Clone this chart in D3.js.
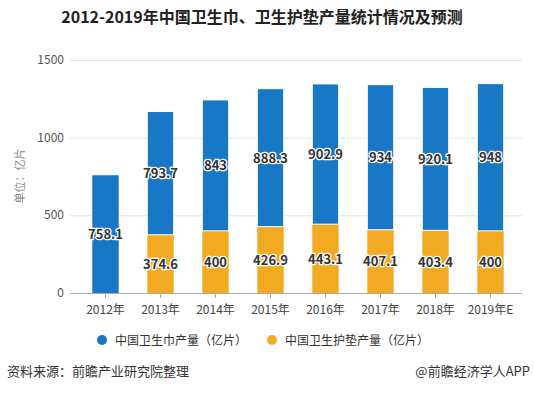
<!DOCTYPE html>
<html>
<head>
<meta charset="utf-8">
<script src="https://cdn.jsdelivr.net/npm/d3@7"></script>
<style>
  body { margin: 0; background: #fff; }
  svg { font-family: "Microsoft YaHei", "Noto Sans CJK SC", sans-serif; }
</style>
</head>
<body>
<div id="chart"></div>
<script>
var years = ['2012年', '2013年', '2014年', '2015年', '2016年', '2017年', '2018年', '2019年E'],
    padValues = [0, 374.6, 400, 426.9, 443.1, 407.1, 403.4, 400],
    napkinValues = [758.1, 793.7, 843, 888.3, 902.9, 934, 920.1, 948],
    yTicks = [0, 500, 1000, 1500];

var BLUE = '#1878c6', ORANGE = '#f1aa22';

var width = 534, height = 394,
    x = d3.scaleBand().domain(years).range([78, 518]).paddingInner(0.52).paddingOuter(0.26),
    y = d3.scaleLinear().domain([0, 1500]).range([293, 60]);

var svg = d3.select('#chart').append('svg')
  .attr('width', width)
  .attr('height', height);

// Title
svg.append('text')
  .attr('x', 262).attr('y', 23)
  .attr('text-anchor', 'middle')
  .attr('font-size', 16).attr('font-weight', 'bold')
  .attr('fill', '#222')
  .text('2012-2019年中国卫生巾、卫生护垫产量统计情况及预测');

// Grid lines
svg.append('g').selectAll('line')
  .data(yTicks)
  .enter().append('line')
  .attr('x1', 70).attr('x2', 522)
  .attr('y1', function(d) { return y(d) + 0.5; })
  .attr('y2', function(d) { return y(d) + 0.5; })
  .attr('stroke', function(d) { return d === 0 ? '#aaa' : '#e2e2e2'; });

// Y tick labels
svg.append('g').selectAll('text')
  .data(yTicks)
  .enter().append('text')
  .attr('x', 64)
  .attr('y', function(d) { return y(d) + 4; })
  .attr('text-anchor', 'end')
  .attr('font-size', 12).attr('fill', '#555')
  .text(function(d) { return d; });

// Y axis title
svg.append('text')
  .attr('transform', 'translate(24,176) rotate(-90)')
  .attr('text-anchor', 'middle')
  .attr('font-size', 11).attr('fill', '#888')
  .text('单位：亿片');

// X axis
var xAxis = svg.append('g')
  .attr('transform', 'translate(0,293)')
  .call(d3.axisBottom(x).tickSize(5).tickSizeOuter(0));
xAxis.select('.domain').remove();
xAxis.selectAll('line').attr('stroke', '#aaa');
xAxis.selectAll('text')
  .attr('dy', '1.05em')
  .attr('font-size', 12)
  .attr('font-family', '"Microsoft YaHei", "Noto Sans CJK SC", sans-serif')
  .attr('fill', '#444');

// Bars: pads on the bottom, napkins on top
var bars = svg.append('g');
bars.selectAll('.pad')
  .data(years)
  .enter().append('rect')
  .attr('class', 'pad')
  .attr('x', function(d) { return x(d); })
  .attr('width', x.bandwidth())
  .attr('y', function(d, i) { return y(padValues[i]); })
  .attr('height', function(d, i) { return y(0) - y(padValues[i]); })
  .attr('fill', ORANGE);

bars.selectAll('.napkin')
  .data(years)
  .enter().append('rect')
  .attr('class', 'napkin')
  .attr('x', function(d) { return x(d); })
  .attr('width', x.bandwidth())
  .attr('y', function(d, i) { return y(padValues[i] + napkinValues[i]); })
  .attr('height', function(d, i) { return y(padValues[i]) - y(padValues[i] + napkinValues[i]); })
  .attr('fill', BLUE)
  .attr('stroke', '#fff')
  .attr('stroke-width', function(d, i) { return padValues[i] ? 1 : 0; });

// Value labels
function addLabels(values, base) {
  svg.append('g').selectAll('text')
    .data(years.filter(function(d, i) { return values[i] > 0; }))
    .enter().append('text')
    .attr('x', function(d) { return x(d) + x.bandwidth() / 2; })
    .attr('y', function(d) {
      var i = years.indexOf(d);
      return y(base[i] + values[i] / 2) + 5;
    })
    .attr('text-anchor', 'middle')
    .attr('font-size', 13).attr('font-weight', 'bold')
    .attr('fill', '#333')
    .attr('stroke', '#fff').attr('stroke-width', 2.5)
    .attr('paint-order', 'stroke')
    .text(function(d) { return values[years.indexOf(d)]; });
}
addLabels(padValues, years.map(function() { return 0; }));
addLabels(napkinValues, padValues);

// Legend
var legend = [
  { name: '中国卫生巾产量（亿片）', color: BLUE, x: 102 },
  { name: '中国卫生护垫产量（亿片）', color: ORANGE, x: 272 }
];
var lg = svg.append('g').selectAll('g')
  .data(legend)
  .enter().append('g')
  .attr('transform', function(d) { return 'translate(' + d.x + ',340)'; });
lg.append('circle').attr('r', 5).attr('fill', function(d) { return d.color; });
lg.append('text')
  .attr('x', 13).attr('y', 4.5)
  .attr('font-size', 12).attr('fill', '#333')
  .text(function(d) { return d.name; });

// Footer
svg.append('text')
  .attr('x', 7).attr('y', 376)
  .attr('font-size', 13).attr('fill', '#333')
  .text('资料来源：前瞻产业研究院整理');
svg.append('text')
  .attr('x', 530).attr('y', 376)
  .attr('text-anchor', 'end')
  .attr('font-size', 13).attr('fill', '#333')
  .text('@前瞻经济学人APP');
</script>
</body>
</html>
